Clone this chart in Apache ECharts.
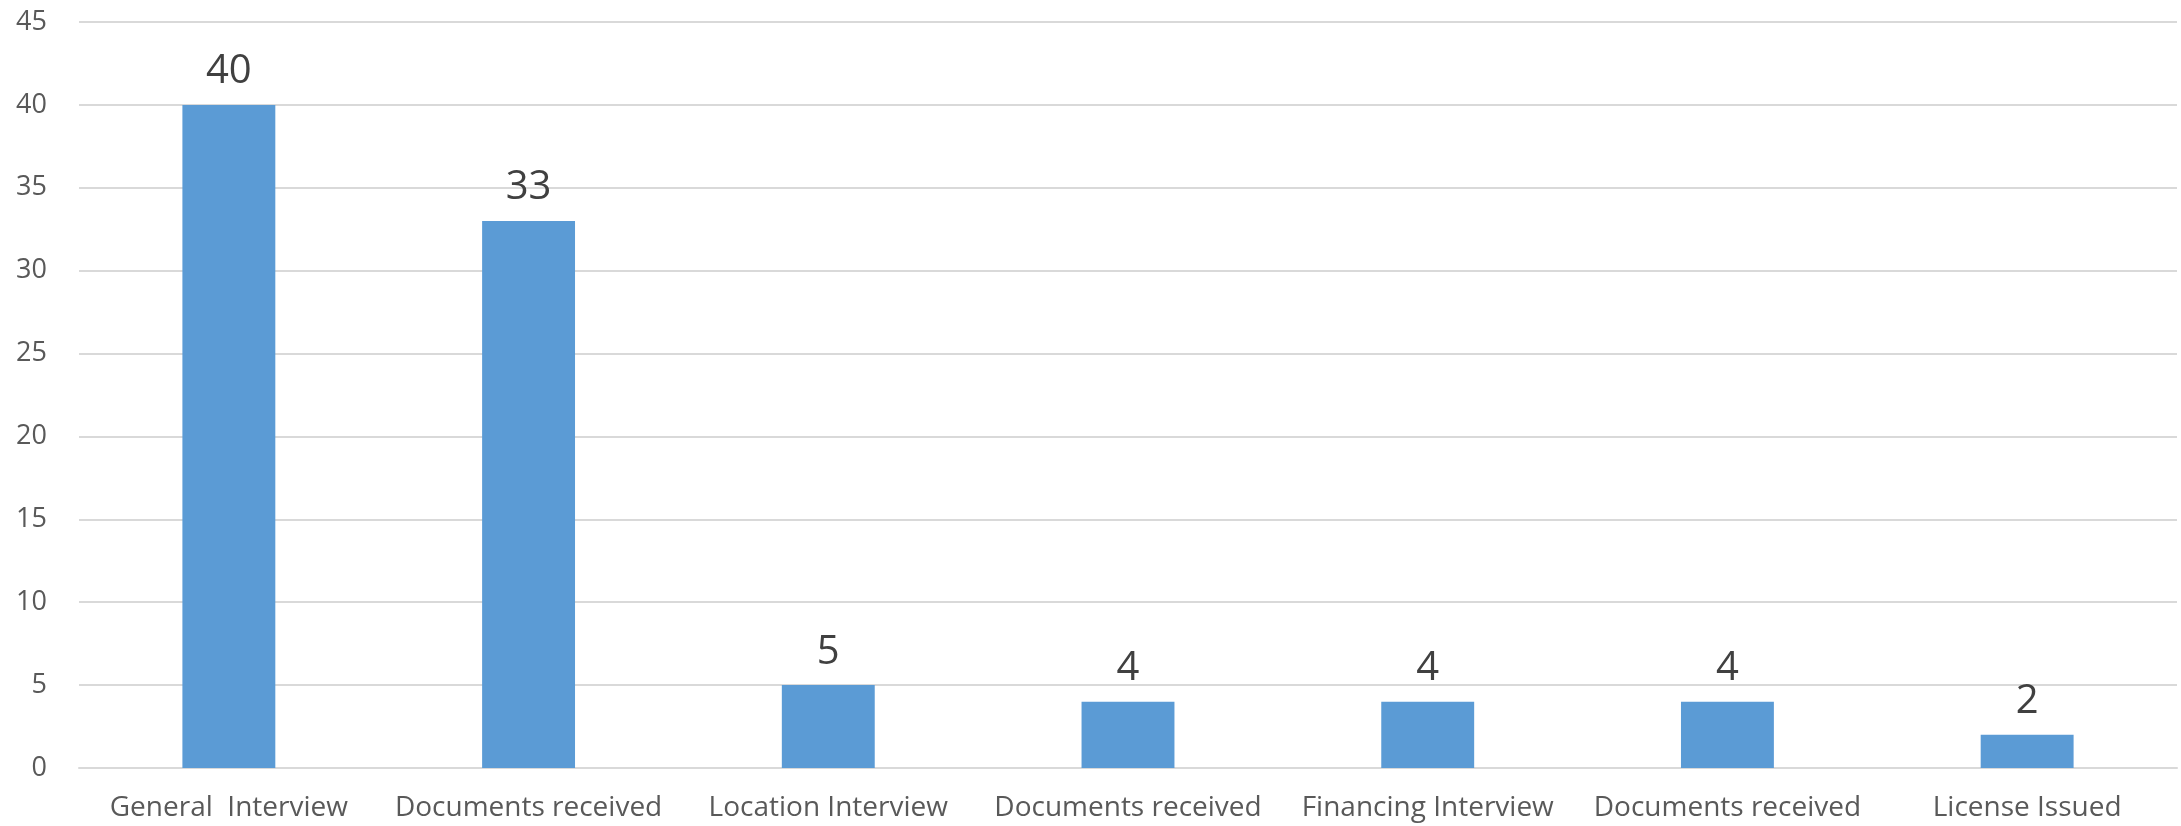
<!DOCTYPE html>
<html>
<head>
<meta charset="utf-8">
<script src="https://cdn.jsdelivr.net/npm/echarts@6/dist/echarts.min.js"></script>
<style>
html,body{margin:0;padding:0;background:#fff;}
#chart{width:2181px;height:826px;}
</style>
</head>
<body>
<div id="chart"></div>
<script>
const categories = ['General  Interview', 'Documents received', 'Location Interview', 'Documents received', 'Financing Interview', 'Documents received', 'License Issued'];
const values = [40, 33, 5, 4, 4, 4, 2];
const yTicks = { min: 0, max: 45, interval: 5 };

const chart = echarts.init(document.getElementById('chart'));
chart.setOption({
  animation: false,
  backgroundColor: '#ffffff',
  grid: { left: 79, right: 4, top: 22, bottom: 58, containLabel: false },
  xAxis: {
    type: 'category',
    data: categories,
    axisLine: { show: true, lineStyle: { color: '#d9d9d9', width: 2 } },
    axisTick: { show: false },
    axisLabel: { color: '#595959', fontSize: 28, fontFamily: 'Open Sans', margin: 26, interval: 0 }
  },
  yAxis: {
    type: 'value',
    min: yTicks.min, max: yTicks.max, interval: yTicks.interval,
    axisLine: { show: false },
    axisTick: { show: false },
    splitLine: { lineStyle: { color: '#d9d9d9', width: 2 } },
    axisLabel: { color: '#595959', fontSize: 27, fontFamily: 'Open Sans', margin: 32 }
  },
  series: [{
    type: 'bar',
    data: values,
    barWidth: '31%',
    itemStyle: { color: '#5b9bd5' },
    label: { show: true, position: 'top', distance: 13, color: '#404040', fontSize: 40, fontFamily: 'Open Sans' }
  }]
});
</script>
</body>
</html>
